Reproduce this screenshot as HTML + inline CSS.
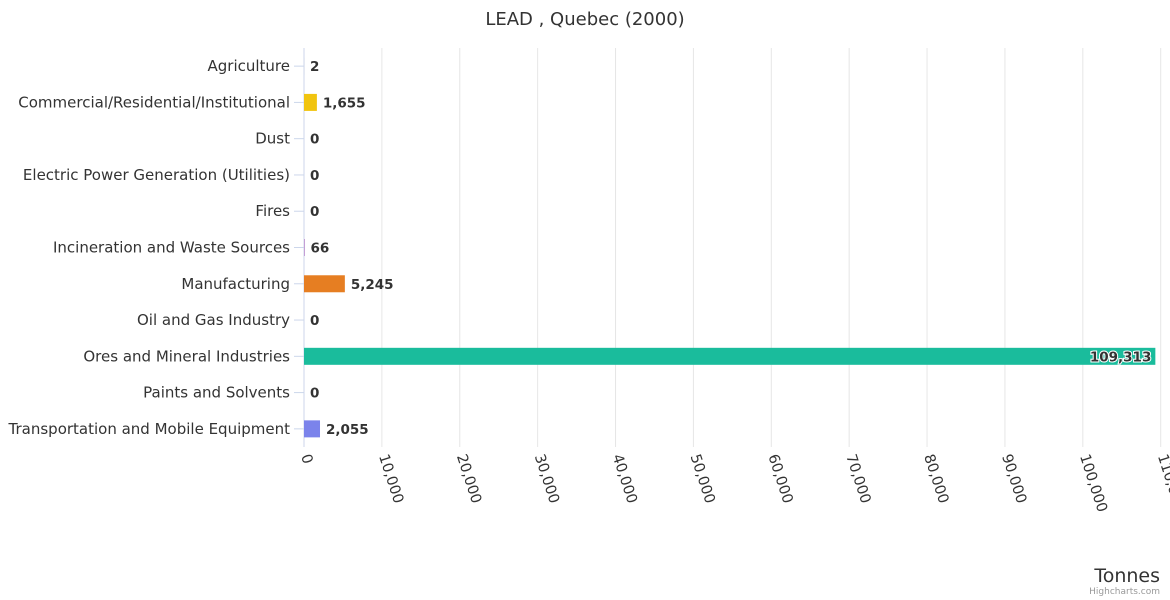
<!DOCTYPE html>
<html><head><meta charset="utf-8"><style>
body{margin:0;background:#fff;font-family:"DejaVu Sans","Liberation Sans",sans-serif}
</style></head><body>
<svg id="chart" width="1170" height="600" style="display:block;font-family:'DejaVu Sans','Liberation Sans',sans-serif">
<text x="585" y="25" text-anchor="middle" font-size="18" fill="#333">LEAD , Quebec (2000)</text>
<g id="grid"></g><g id="bars"></g><g id="ylab"></g><g id="xlab"></g>
<text x="1160" y="582" text-anchor="end" font-size="19" fill="#333">Tonnes</text>
<text x="1160" y="594" text-anchor="end" font-size="9" fill="#999">Highcharts.com</text>
</svg>
<script>
const categories=["Agriculture","Commercial/Residential/Institutional","Dust","Electric Power Generation (Utilities)","Fires","Incineration and Waste Sources","Manufacturing","Oil and Gas Industry","Ores and Mineral Industries","Paints and Solvents","Transportation and Mobile Equipment"];
const values=[2,1655,0,0,0,66,5245,0,109313,0,2055];
const colors=["#434348","#f1c40f","#2ecc71","#3498db","#e74c3c","#8e44ad","#e67e22","#95a5a6","#1abc9c","#f39c12","#7b83eb"];
const ticks=[0,10000,20000,30000,40000,50000,60000,70000,80000,90000,100000,110000];
const NS="http://www.w3.org/2000/svg";
const plotX0=304,plotX1=1160.7,xmax=110000,plotTop=48,plotBottom=447;
const xs=v=>plotX0+v/xmax*(plotX1-plotX0);
const rowH=(plotBottom-plotTop)/categories.length;
const yc=i=>plotTop+rowH*(i+0.5);
function mk(t,a,p){const e=document.createElementNS(NS,t);for(const k in a)e.setAttribute(k,a[k]);p.appendChild(e);return e;}
const fmt=v=>v.toLocaleString("en-US");
const g=document.getElementById("grid"),b=document.getElementById("bars"),yl=document.getElementById("ylab"),xl=document.getElementById("xlab");
ticks.forEach(t=>{
 const l=mk("line",{x1:xs(t),x2:xs(t),y1:plotTop,y2:plotBottom,stroke:t===0?"#ccd6eb":"#e6e6e6","stroke-width":1},g);
 
 
 const x=xs(t)-3,y=plotBottom+9;
 const tx=mk("text",{x:x,y:y,"font-size":"14.5",fill:"#333",transform:`rotate(72 ${x} ${y})`},xl);
 tx.textContent=fmt(t);
 
 
});
categories.forEach((c,i)=>{
 const y=yc(i);
 const tk=mk("line",{x1:plotX0-10,x2:plotX0,y1:y,y2:y,stroke:"#ccd6eb"},g);
 
 
 const t=mk("text",{x:290,y:y+5,"text-anchor":"end","font-size":"15",fill:"#333"},yl);
 t.textContent=c;
 
 
 const w=Math.max(0,xs(values[i])-plotX0);
 const r=mk("rect",{x:plotX0,y:y-8.5,width:w,height:17,fill:colors[i]},b);
 
 
 const inside=w>800;
 const lbl=mk("text",{x:inside?plotX0+w-4:plotX0+w+6,y:y+5,"text-anchor":inside?"end":"start","font-size":"13.5","font-weight":"bold",fill:"#333",stroke:inside?"#fff":"none","stroke-width":inside?"2":"0","paint-order":"stroke"},b);
 lbl.textContent=fmt(values[i]);
 
 
});
</script>
</body></html>
